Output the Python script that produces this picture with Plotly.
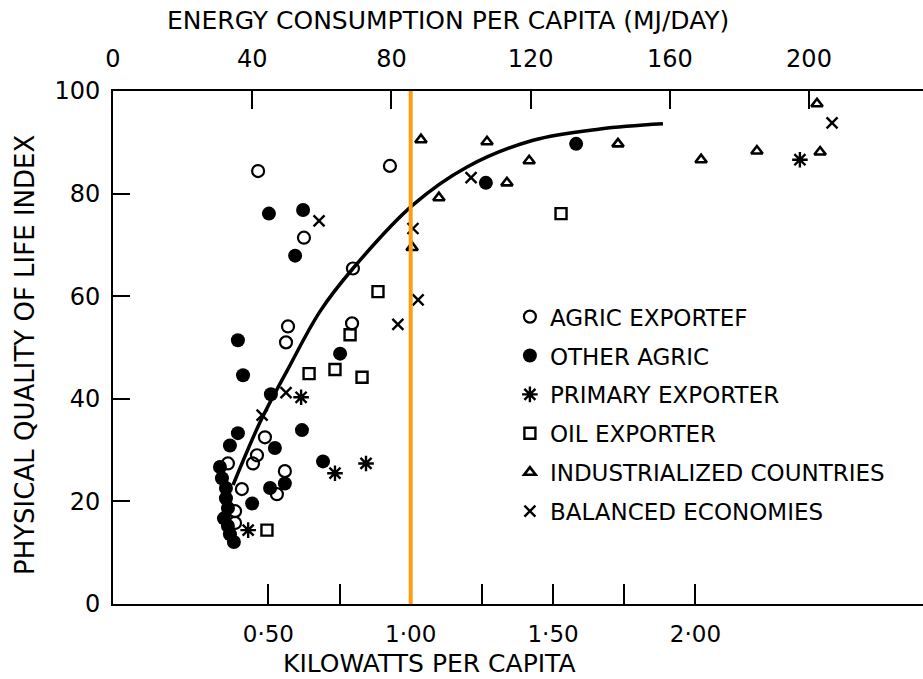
import plotly.graph_objects as go

# ---- Data: kilowatts per capita (bottom scale) vs. Physical Quality of Life Index ----
agric_exporter_kw = [0.464, 0.927, 0.625, 0.797, 0.569, 0.562, 0.794, 0.488, 0.460,
                     0.446, 0.358, 0.558, 0.407, 0.530, 0.383, 0.383]
agric_exporter_pqli = [84.4, 85.4, 71.4, 65.4, 54.1, 51.0, 54.7, 32.5, 29.0,
                       27.4, 27.4, 25.9, 22.4, 21.4, 18.1, 15.8]

other_agric_kw = [0.502, 0.622, 0.594, 0.393, 0.411, 0.509, 0.752, 0.618, 0.393,
                  0.365, 0.523, 0.330, 0.692, 0.506, 0.558, 0.443, 1.581, 1.264,
                  0.337, 0.351, 0.351, 0.358, 0.344, 0.358, 0.365, 0.379]
other_agric_pqli = [76.1, 76.8, 67.9, 51.4, 44.6, 40.9, 48.8, 33.9, 33.3,
                    30.9, 30.4, 26.7, 27.8, 22.6, 23.5, 19.6, 89.7, 82.1,
                    24.5, 22.6, 20.6, 18.7, 16.7, 15.2, 13.6, 12.1]

primary_exporter_kw = [0.615, 0.734, 0.843, 0.429, 2.367]
primary_exporter_pqli = [40.3, 25.5, 27.4, 14.4, 86.6]

oil_exporter_kw = [0.643, 0.734, 0.829, 0.787, 0.885, 0.495, 1.528]
oil_exporter_pqli = [44.9, 45.7, 44.2, 52.5, 60.9, 14.4, 76.1]

industrialized_kw = [1.036, 1.268, 1.416, 1.099, 1.338, 1.728, 2.020, 2.216,
                     2.438, 2.427, 1.005]
industrialized_pqli = [90.5, 90.1, 86.4, 79.2, 82.1, 89.7, 86.6, 88.3,
                       88.1, 97.5, 69.5]

balanced_kw = [0.678, 1.008, 1.026, 0.955, 0.562, 1.212, 2.480, 0.478]
balanced_pqli = [74.7, 73.2, 59.3, 54.5, 41.2, 83.1, 93.8, 36.8]

# Fitted trend curve
trend_kw = [0.376, 0.474, 0.566, 0.681, 0.797, 1.008, 1.198, 1.430, 1.665, 1.886]
trend_pqli = [23.2, 35.8, 45.5, 57.0, 65.4, 77.8, 85.2, 90.4, 92.6, 93.6]

# Reference line at 1 kW per capita
marker_kw = 1.00

# Axis ticks
kw_tick_vals = [0.50, 0.75, 1.00, 1.25, 1.50, 1.75, 2.00]
kw_tick_text = ["0·50", "", "1·00", "", "1·50", "", "2·00"]
mj_tick_vals = [0, 40, 80, 120, 160, 200]
mj_tick_text = ["0", "40", "80", "120", "160", "200"]
pqli_tick_vals = [0, 20, 40, 60, 80, 100]

FONT = "DejaVu Sans"
INK = "black"

series = [
    ("AGRIC EXPORTEF", agric_exporter_kw, agric_exporter_pqli,
     dict(symbol="circle-open", size=12, color=INK, line=dict(width=2.2, color=INK))),
    ("OTHER AGRIC", other_agric_kw, other_agric_pqli,
     dict(symbol="circle", size=14, color=INK, line=dict(width=0))),
    ("PRIMARY EXPORTER", primary_exporter_kw, primary_exporter_pqli,
     dict(symbol="asterisk-open", size=13, color=INK, line=dict(width=2.4, color=INK))),
    ("OIL EXPORTER", oil_exporter_kw, oil_exporter_pqli,
     dict(symbol="square-open", size=11, color=INK, line=dict(width=2.4, color=INK))),
    ("INDUSTRIALIZED COUNTRIES", industrialized_kw, industrialized_pqli,
     dict(symbol="triangle-up-open", size=10, color=INK, line=dict(width=2.6, color=INK))),
    ("BALANCED ECONOMIES", balanced_kw, balanced_pqli,
     dict(symbol="x-thin-open", size=11, color=INK, line=dict(width=2.4, color=INK))),
]

fig = go.Figure()

fig.add_trace(go.Scatter(
    x=trend_kw, y=trend_pqli, mode="lines",
    line=dict(color=INK, width=3.5, shape="spline", smoothing=1.0),
    showlegend=False, hoverinfo="skip",
))

for i, (name, xs, ys, mk) in enumerate(series):
    fig.add_trace(go.Scatter(
        x=xs, y=ys, mode="markers", name=name, marker=mk,
        legendgroup=f"g{i}",
    ))

# Hidden trace that carries the MJ/day scale on the top axis
fig.add_trace(go.Scatter(x=[None], y=[None], xaxis="x2", yaxis="y",
                         showlegend=False, hoverinfo="skip"))

fig.add_shape(type="line", xref="x", yref="paper",
              x0=marker_kw, x1=marker_kw, y0=0, y1=1,
              line=dict(color="#FF9C10", width=4))

# Axis titles
title_font = dict(family=FONT, color=INK)
fig.add_annotation(text="ENERGY CONSUMPTION PER CAPITA (MJ/DAY)",
                   xref="paper", yref="paper", x=0.4136, y=1.138,
                   xanchor="center", yanchor="middle", showarrow=False,
                   font=dict(size=25, **title_font))
fig.add_annotation(text="KILOWATTS PER CAPITA",
                   xref="paper", yref="paper", x=0.391, y=-0.116,
                   xanchor="center", yanchor="middle", showarrow=False,
                   font=dict(size=25, **title_font))
fig.add_annotation(text="PHYSICAL QUALITY OF LIFE INDEX",
                   xref="paper", yref="paper", x=-0.1086, y=0.4854,
                   xanchor="center", yanchor="middle", showarrow=False,
                   textangle=-90, font=dict(size=26, **title_font))

fig.update_layout(
    width=923, height=679,
    margin=dict(l=113, r=0, t=91, b=75),
    paper_bgcolor="white", plot_bgcolor="white",
    font=dict(family=FONT, color=INK, size=20),
    showlegend=True,
    legend=dict(
        x=0.49, y=0.602, xanchor="left", yanchor="top",
        bgcolor="rgba(0,0,0,0)", borderwidth=0,
        font=dict(family=FONT, size=23, color=INK),
        tracegroupgap=6, itemsizing="trace",
    ),
    xaxis=dict(
        range=[-0.0457, 2.7994], showgrid=False, zeroline=False,
        showline=True, linecolor=INK, linewidth=2,
        ticks="inside", ticklen=20, tickwidth=2, tickcolor=INK,
        tickvals=kw_tick_vals, ticktext=kw_tick_text,
        tickfont=dict(family=FONT, size=23, color=INK),
        ticklabelstandoff=8,
    ),
    xaxis2=dict(
        overlaying="x", side="top", anchor="y",
        range=[0, 232.76], showgrid=False, zeroline=False,
        showline=True, linecolor=INK, linewidth=2,
        ticks="inside", ticklen=18, tickwidth=2, tickcolor=INK,
        tickvals=mj_tick_vals, ticktext=mj_tick_text,
        tickfont=dict(family=FONT, size=24, color=INK),
        ticklabelstandoff=12,
    ),
    yaxis=dict(
        range=[0, 100], showgrid=False, zeroline=False,
        showline=True, linecolor=INK, linewidth=2,
        ticks="inside", ticklen=17, tickwidth=2, tickcolor=INK,
        tickvals=pqli_tick_vals,
        tickfont=dict(family=FONT, size=24, color=INK),
        ticklabelstandoff=6,
    ),
)

fig.write_html("out.html")
